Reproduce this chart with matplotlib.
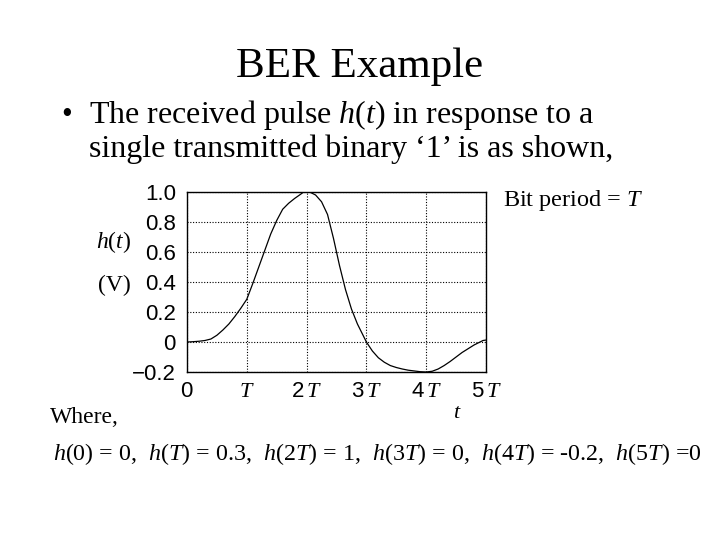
import matplotlib
matplotlib.use("Agg")
import matplotlib.pyplot as plt

plt.rcParams["font.family"] = ["Liberation Serif", "DejaVu Serif"]
plt.rcParams["mathtext.fontset"] = "custom"
plt.rcParams["mathtext.rm"] = "Liberation Serif"
plt.rcParams["mathtext.it"] = "Liberation Serif:italic"
plt.rcParams["mathtext.sf"] = "Liberation Sans"

# received pulse h(t), t in bit periods
t_bits = [0, 0.1, 0.2, 0.3, 0.4, 0.5, 0.6, 0.7, 0.8, 0.9, 1.0, 1.1, 1.2, 1.3,
          1.4, 1.5, 1.6, 1.7, 1.8, 1.9, 1.95, 2.05, 2.15, 2.25, 2.35, 2.45,
          2.55, 2.65, 2.75, 2.85, 2.95, 3.0, 3.1, 3.2, 3.3, 3.4, 3.5, 3.6,
          3.7, 3.8, 3.9, 4.0, 4.1, 4.2, 4.3, 4.4, 4.5, 4.6, 4.7, 4.8, 4.9,
          4.95, 5.0]
h_volts = [0, 0.002, 0.005, 0.01, 0.02, 0.045, 0.08, 0.12, 0.17, 0.225, 0.285,
           0.39, 0.50, 0.61, 0.72, 0.81, 0.885, 0.925, 0.957, 0.985, 1.0, 1.0,
           0.98, 0.935, 0.85, 0.69, 0.51, 0.35, 0.22, 0.12, 0.04, 0.0, -0.06,
           -0.105, -0.135, -0.157, -0.17, -0.18, -0.188, -0.193, -0.198, -0.2,
           -0.195, -0.18, -0.157, -0.13, -0.1, -0.07, -0.045, -0.02, 0.0,
           0.01, 0.013]

xticks = [0, 1, 2, 3, 4, 5]
xtick_labels = [r"$\mathsf{0}$", r"$T$", r"$\mathsf{2}\,T$", r"$\mathsf{3}\,T$",
                r"$\mathsf{4}\,T$", r"$\mathsf{5}\,T$"]
yticks = [1.0, 0.8, 0.6, 0.4, 0.2, 0, -0.2]
ytick_labels = ["1.0", "0.8", "0.6", "0.4", "0.2", "0", "\u22120.2"]

W, H = 720, 540
fig = plt.figure(figsize=(7.2, 5.4), dpi=100)
fig.patch.set_facecolor("white")


def px(x, y):
    return x / W, 1 - y / H


# slide text
fig.text(*px(360, 77), "BER Example", ha="center", va="baseline", fontsize=31)
fig.text(*px(67, 123), "\u2022", ha="center", va="baseline", fontsize=22)
fig.text(*px(89, 123), "The received pulse $h$($t$) in response to a",
         va="baseline", fontsize=23)
fig.text(*px(89, 157), "single transmitted binary \u20181\u2019 is as shown,",
         va="baseline", fontsize=23)

ax = fig.add_axes([187 / W, 1 - 372 / H, 299 / W, 180 / H])
ax.plot(t_bits, h_volts, color="black", lw=0.9)
ax.set_xlim(0, 5)
ax.set_ylim(-0.2, 1.0)
ax.set_xticks(xticks)
ax.set_xticklabels(xtick_labels, fontsize=16)
ax.set_yticks(yticks)
ax.set_yticklabels(ytick_labels, fontsize=16, family="Liberation Sans")
ax.tick_params(length=0, pad=8)
ax.grid(True, color="black", linestyle=(0, (1, 1.5)), lw=0.8)
for s in ax.spines.values():
    s.set_linewidth(1.0)

fig.text(*px(114, 242), "$h$($t$)", ha="center", va="center", fontsize=17)
fig.text(*px(114, 285), "(V)", ha="center", va="center", fontsize=17)
fig.text(*px(503, 206), "Bit period = $T$", va="baseline", fontsize=17.5)
fig.text(*px(457, 413), "$t$", ha="center", va="center", fontsize=16)
fig.text(*px(50, 423), "Where,", va="baseline", fontsize=17)
fig.text(*px(53, 460),
         "$h$(0) = 0,  $h$($T$) = 0.3,  $h$(2$T$) = 1,  $h$(3$T$) = 0,  "
         "$h$(4$T$) = -0.2,  $h$(5$T$) =0",
         va="baseline", fontsize=17.3)

fig.savefig("out.png", dpi=100, facecolor="white")
